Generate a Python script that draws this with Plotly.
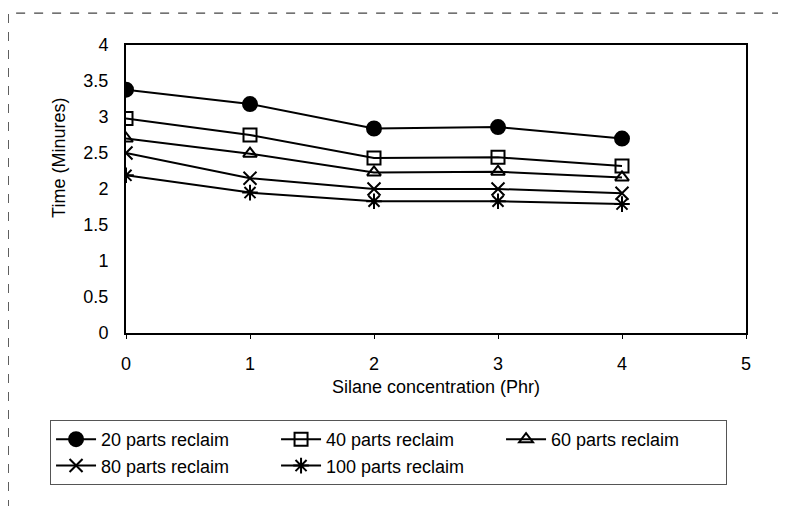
import plotly.graph_objects as go

x_vals = [0, 1, 2, 3, 4]
series_names = ["20 parts reclaim", "40 parts reclaim", "60 parts reclaim",
                "80 parts reclaim", "100 parts reclaim"]
s20 = [3.38, 3.18, 2.84, 2.86, 2.70]
s40 = [2.98, 2.75, 2.43, 2.44, 2.32]
s60 = [2.70, 2.49, 2.23, 2.24, 2.16]
s80 = [2.50, 2.15, 2.00, 2.00, 1.94]
s100 = [2.19, 1.95, 1.83, 1.83, 1.79]
y_ticks = [0, 0.5, 1, 1.5, 2, 2.5, 3, 3.5, 4]
x_ticks = [0, 1, 2, 3, 4, 5]

series = [s20, s40, s60, s80, s100]
symbols = ["circle", "square-open", "triangle-up-open", "x-thin-open", "asterisk-open"]
sizes = [14, 13, 12, 13, 13]

fig = go.Figure()
for name, ys, sym, sz in zip(series_names, series, symbols, sizes):
    fig.add_trace(go.Scatter(
        x=x_vals, y=ys, name=name, mode="lines+markers",
        line=dict(color="black", width=2),
        marker=dict(symbol=sym, size=sz, color="black",
                    line=dict(color="black", width=2)),
    ))

font_family = "Liberation Sans, Arial, sans-serif"
fig.update_layout(
    width=786, height=506,
    margin=dict(l=118, r=48, t=37, b=181),
    paper_bgcolor="white", plot_bgcolor="white",
    font=dict(family=font_family, size=18, color="black"),
    showlegend=True,
    legend=dict(
        orientation="h", x=-0.1225, xanchor="left", y=-0.302, yanchor="top",
        bordercolor="#555", borderwidth=1, entrywidth=170, entrywidthmode="pixels",
        font=dict(size=18), itemwidth=40,
    ),
    xaxis=dict(
        range=[0, 5], tickvals=x_ticks, showgrid=False, zeroline=False,
        showline=True, linecolor="black", linewidth=2, mirror=True,
        ticks="outside", ticklen=4, tickcolor="black", ticklabelstandoff=9,
        title=dict(text="Silane concentration (Phr)", standoff=8, font=dict(size=18)),
        tickfont=dict(size=18),
    ),
    yaxis=dict(
        range=[0, 4], tickvals=y_ticks, showgrid=False, zeroline=False,
        showline=True, linecolor="black", linewidth=2, mirror=True,
        ticks="", ticklabelstandoff=12,
        tickfont=dict(size=18),
    ),
    annotations=[
        dict(text="Time (Minures)", xref="paper", yref="paper",
             x=-0.108, y=0.608, xanchor="center", yanchor="middle",
             textangle=-90, showarrow=False, font=dict(size=18)),
    ],
    shapes=[
        dict(type="rect", xref="paper", yref="paper",
             x0=-0.19, x1=1.12, y0=-0.62, y1=1.111,
             line=dict(color="#444", width=1.3, dash="dash")),
    ],
)

fig.write_html("out.html")
